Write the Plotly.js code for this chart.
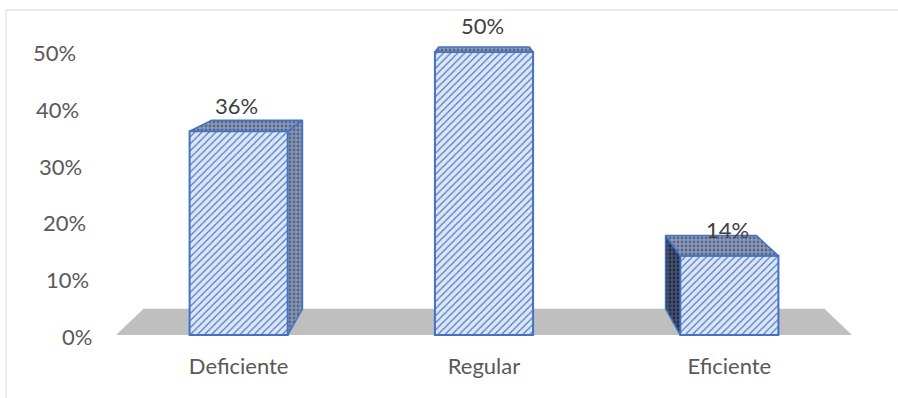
<!DOCTYPE html>
<html>
<head>
<meta charset="utf-8">
<script src="https://cdn.plot.ly/plotly-3.0.1.min.js"></script>
<style>html,body{margin:0;padding:0;background:#fff;}#chart{width:898px;height:398px;}</style>
</head>
<body>
<div id="chart"></div>
<script>
// ---- data ----
const categories = ['Deficiente', 'Regular', 'Eficiente'];
const values = [0.36, 0.50, 0.14];
const valueLabels = ['36%', '50%', '14%'];
const yTickVals = [0, 0.1, 0.2, 0.3, 0.4, 0.5];
const yTickText = ['0%', '10%', '20%', '30%', '40%', '50%'];

// ---- styling / perspective ----
const FONT = 'Lato, "Open Sans", sans-serif';
const TEXT = '#595959';
const EDGE = '#4472c4';
const HALF = 0.2;           // half bar width (category units)
const DEPTH = 0.075;        // perspective depth factor
const VP = {x: 1, y: 0.618}; // vanishing point (data coords)
const XR = [-0.5, 2.5];
const YR = [-0.0141, 0.5565];

function back(p) { return [p[0] + DEPTH * (VP.x - p[0]), p[1] + DEPTH * (VP.y - p[1])]; }
function poly(pts, fg, bg, name) {
  const xs = pts.map(p => p[0]); const ys = pts.map(p => p[1]);
  xs.push(xs[0]); ys.push(ys[0]);
  return {type: 'scatter', mode: 'lines', x: xs, y: ys, fill: 'toself',
    fillcolor: bg, fillpattern: {shape: '.', fgcolor: fg, bgcolor: bg, size: 4, solidity: 0.4},
    line: {color: EDGE, width: 1.5}, hoverinfo: 'skip', showlegend: false, name: name};
}

const xIdx = categories.map((c, i) => i);
const traces = [{
  type: 'bar', x: xIdx, y: values, width: HALF * 2,
  marker: {color: '#dae3f3', line: {color: EDGE, width: 2},
    pattern: {shape: '/', fgcolor: '#4f7bc8', bgcolor: '#dde6f5', size: 5, solidity: 0.25}},
  hoverinfo: 'skip', showlegend: false
}];

xIdx.forEach((i, k) => {
  const v = values[k];
  // side face (facing the vanishing point)
  if (i < VP.x) {
    const a = [i + HALF, 0], b = [i + HALF, v];
    traces.push(poly([a, b, back(b), back(a)], '#56678a', '#8897b5', 'side'));
  } else if (i > VP.x) {
    const a = [i - HALF, 0], b = [i - HALF, v];
    traces.push(poly([a, b, back(b), back(a)], '#222c44', '#44526f', 'side'));
  }
  // top face
  const l = [i - HALF, v], r = [i + HALF, v];
  traces.push(poly([l, r, back(r), back(l)], '#56678a', '#8d9bb9', 'top'));
});

// floor
const f0 = [XR[0], 0], f1 = [XR[1], 0], b0 = back(f0), b1 = back(f1);
const floorPath = `M ${f0[0]} ${f0[1]} L ${f1[0]} ${f1[1]} L ${b1[0]} ${b1[1]} L ${b0[0]} ${b0[1]} Z`;

const annotations = [];
values.forEach((v, k) => {
  annotations.push({x: xIdx[k], y: v, xref: 'x', yref: 'y', text: valueLabels[k], showarrow: false,
    yanchor: 'middle', xanchor: 'center', yshift: 26, xshift: -2,
    font: {family: FONT, size: 22, color: '#404040'}});
});
yTickVals.forEach((v, k) => {
  annotations.push({x: 0, y: v, xref: 'paper', yref: 'y', text: yTickText[k], showarrow: false,
    xanchor: 'right', yanchor: 'middle', xshift: -22 - 32 * v, yshift: -1,
    font: {family: FONT, size: 22, color: TEXT}});
});

const layout = {
  width: 898, height: 398,
  margin: {l: 116, r: 46, t: 20, b: 55},
  paper_bgcolor: '#ffffff', plot_bgcolor: 'rgba(0,0,0,0)',
  xaxis: {range: XR, tickvals: xIdx, ticktext: categories, showgrid: false, zeroline: false,
    showline: false, ticks: '', ticklabelstandoff: 8,
    tickfont: {family: FONT, size: 22, color: TEXT}},
  yaxis: {range: YR, tickvals: yTickVals, showticklabels: false, showgrid: false,
    zeroline: false, showline: false, ticks: ''},
  shapes: [
    {type: 'path', path: floorPath, xref: 'x', yref: 'y', layer: 'below',
      fillcolor: '#bfbfbf', line: {width: 0}},
    {type: 'rect', xref: 'paper', yref: 'paper', x0: -0.1495, x1: 1.3, y0: -0.5, y1: 1.031,
      line: {color: '#d9d9d9', width: 1}, fillcolor: 'rgba(0,0,0,0)'}
  ],
  annotations: annotations,
  showlegend: false
};

Plotly.newPlot('chart', traces, layout, {displayModeBar: false, staticPlot: true});
</script>
</body>
</html>
